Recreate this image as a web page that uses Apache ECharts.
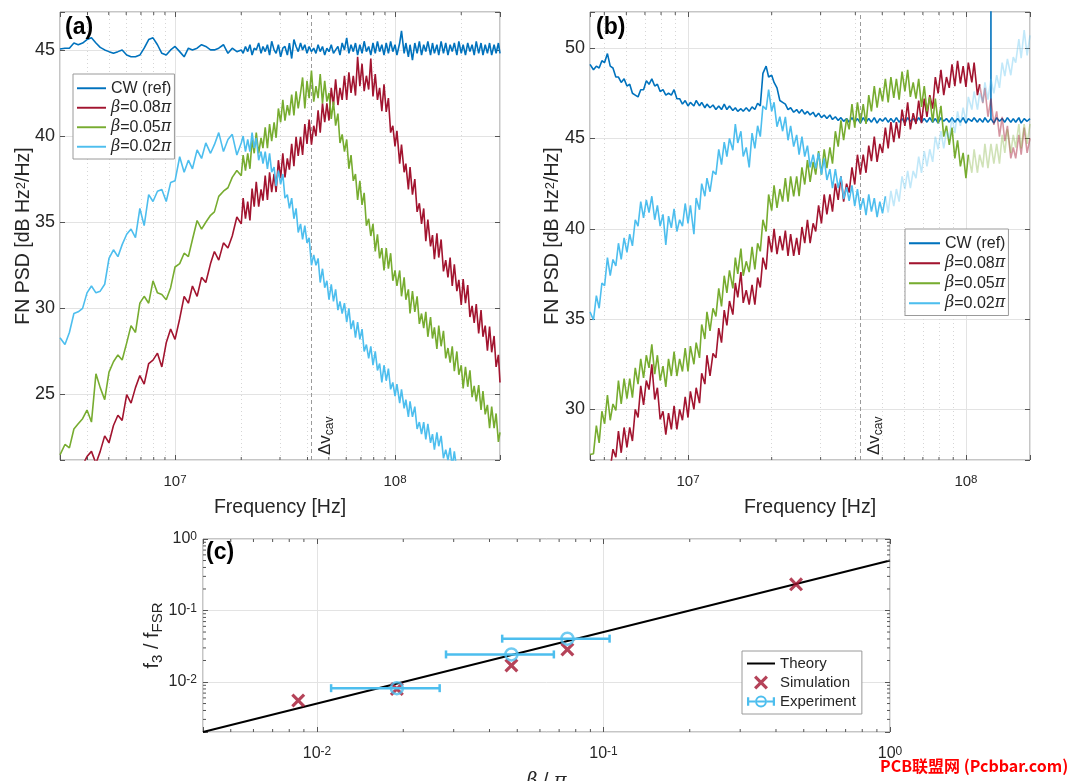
<!DOCTYPE html>
<html><head><meta charset="utf-8">
<script src="https://cdn.jsdelivr.net/npm/echarts@6/dist/echarts.min.js"></script>
<style>html,body{margin:0;padding:0;background:#fff}#c{width:1080px;height:781px}</style>
</head><body><div id="c"></div>
<script>
// ---------------- data: panel (a) ----------------
const freqA = [3.00e6,3.16e6,3.31e6,3.47e6,3.63e6,3.80e6,3.98e6,4.17e6,4.37e6,4.57e6,4.79e6,5.01e6,5.25e6,5.50e6,5.75e6,6.03e6,6.31e6,6.61e6,6.92e6,7.24e6,7.59e6,7.94e6,8.32e6,8.71e6,9.12e6,9.55e6,
1.00e7,1.05e7,1.10e7,1.15e7,1.20e7,1.26e7,1.32e7,1.38e7,1.45e7,1.51e7,1.58e7,1.66e7,1.74e7,1.82e7,1.91e7,2.00e7,
2.04e7,2.09e7,2.14e7,2.19e7,2.24e7,2.29e7,2.34e7,2.40e7,2.46e7,2.51e7,2.57e7,2.63e7,2.69e7,2.75e7,2.82e7,2.88e7,2.95e7,3.02e7,3.09e7,3.16e7,
3.24e7,3.31e7,3.39e7,3.47e7,3.55e7,3.63e7,3.72e7,3.80e7,3.89e7,3.98e7,4.07e7,4.17e7,4.27e7,4.37e7,4.47e7,4.57e7,4.68e7,4.79e7,4.90e7,5.01e7,
5.13e7,5.25e7,5.37e7,5.50e7,5.62e7,5.75e7,5.89e7,6.03e7,6.17e7,6.31e7,6.46e7,6.61e7,6.76e7,6.92e7,7.08e7,7.24e7,7.41e7,7.59e7,7.76e7,7.94e7,
8.13e7,8.32e7,8.51e7,8.71e7,8.91e7,9.12e7,9.33e7,9.55e7,9.77e7,
1.00e8,1.02e8,1.05e8,1.07e8,1.10e8,1.12e8,1.15e8,1.17e8,1.20e8,1.23e8,1.26e8,1.29e8,1.32e8,1.35e8,1.38e8,1.41e8,1.45e8,1.48e8,1.51e8,1.55e8,
1.58e8,1.62e8,1.66e8,1.70e8,1.74e8,1.78e8,1.82e8,1.86e8,1.91e8,1.95e8,2.00e8,2.04e8,2.09e8,2.14e8,2.19e8,2.24e8,2.29e8,2.34e8,2.40e8,2.46e8,
2.51e8,2.57e8,2.63e8,2.69e8,2.75e8,2.82e8,2.88e8,2.95e8,3.00e8];
const cwA = [45.05,45.1,45.1,45.4,45.3,45.4,45.6,45.7,45.4,45.15,45.0,44.9,44.8,44.9,45.0,44.7,44.6,44.6,44.7,45.1,45.6,45.7,45.3,44.8,44.7,45.0,
45.2,44.9,44.6,45.1,45.0,45.1,45.3,45.2,45.0,45.0,45.1,45.3,44.8,45.1,44.9,45.0,
44.8,45.2,44.9,45.3,44.7,45.1,45.0,45.4,44.8,45.2,44.9,45.3,
44.7,45.5,45.0,44.8,45.3,44.6,45.1,45.2,44.7,45.4,44.5,45.6,
45.2,44.9,45.4,45.0,45.3,44.8,45.2,44.9,45.1,44.8,45.3,44.9,
45.2,44.7,45.1,44.9,45.3,44.8,45.0,45.2,44.7,45.4,45.0,45.7,
44.8,45.3,44.9,45.4,44.7,45.3,44.8,45.5,44.9,45.2,44.7,45.4,
44.8,45.5,44.9,45.3,44.7,45.4,44.8,45.5,44.9,45.3,44.7,45.4,
46.1,44.8,45.4,44.6,45.3,44.4,45.4,44.8,45.5,44.7,45.3,44.9,
45.5,44.7,45.4,44.8,45.3,44.7,45.5,44.8,45.4,44.7,45.3,44.9,
45.4,44.7,45.5,44.8,45.3,44.7,45.4,44.9,45.3,44.7,45.5,44.8,
45.4,44.7,45.3,44.8,45.4,44.7,45.3,44.8,45.4,44.8];
const beta08A = [null,null,null,null,null,20.9,21.4,21.7,21.0,21.7,22.6,22.2,23.2,23.8,23.5,25.0,24.5,25.4,26.1,25.6,26.8,27.0,27.4,26.6,28.0,28.8,
28.2,29.4,30.7,30.3,31.3,30.7,31.8,31.5,32.6,33.3,32.8,33.8,33.5,34.2,35.3,34.9,
36.4,35.2,36.2,35.1,36.95,35.9,37.35,35.9,36.9,36.25,
37.7,36.3,37.9,36.75,37.8,36.75,38.6,37.55,39.0,37.6,
38.7,38.05,39.55,38.25,39.95,38.85,39.95,38.9,40.7,39.55,
40.95,39.5,40.6,40.0,41.5,40.2,41.9,40.8,41.9,40.9,
42.8,41.8,43.3,41.8,42.8,42.1,43.5,42.1,43.7,42.5,
43.5,42.35,44.6,42.9,44.2,42.6,43.5,42.7,44.5,42.3,
43.6,42.1,42.8,41.45,43.0,41.4,42.2,40.2,40.6,39.4,
40.3,38.4,39.5,37.9,38.4,36.9,38.2,36.6,37.5,35.6,
36.1,34.9,35.8,33.9,35.15,33.6,34.25,32.85,34.35,32.95,
34.0,32.15,32.8,31.8,32.95,31.3,32.55,31.0,31.65,30.2,
31.7,30.3,31.35,29.5,30.15,29.15,30.25,28.55,29.9,28.35,
29.0,27.55,28.95,27.45,28.4,26.6,27.3,25.7];
const beta05A = [21.5,22.1,21.9,23.0,23.3,23.6,24.1,23.4,26.2,25.4,24.7,26.3,26.9,27.3,27.0,28.0,29.0,28.6,30.3,30.7,30.3,31.6,30.9,30.8,30.5,31.2,
32.4,32.6,33.2,33.0,34.0,35.1,34.6,35.0,35.4,35.6,36.5,36.8,37.0,37.6,38.0,37.7,
38.9,38.0,39.0,38.1,39.8,39.0,40.2,39.0,39.9,39.3,
40.5,39.3,40.7,39.7,40.8,39.9,41.6,40.8,42.1,40.9,
41.8,41.2,42.4,41.2,42.6,41.6,42.5,43.4,41.6,43.2,
42.2,43.8,42.0,42.9,42.2,43.6,41.9,43.2,42.0,42.5,
41.0,42.0,40.6,41.3,39.6,40.1,39.1,39.8,38.1,38.9,
37.4,37.8,36.3,37.4,36.0,36.7,34.8,35.2,34.2,34.9,
33.3,34.3,32.9,33.5,32.2,33.5,32.3,33.2,31.6,32.2,
31.3,32.2,30.7,31.8,30.5,31.1,29.7,31.0,29.8,30.7,
29.1,29.7,28.85,29.8,28.35,29.5,28.25,28.9,27.65,29.0,
27.8,28.7,27.1,27.7,26.85,27.8,26.35,27.5,26.15,26.7,
25.35,26.6,25.45,26.4,24.85,25.5,24.6,25.55,24.1,25.2,
23.85,24.4,23.05,24.3,23.05,23.9,22.25,22.8];
const beta02A = [28.3,27.9,28.6,29.7,29.8,30.0,30.9,31.3,30.9,31.0,31.4,32.9,33.4,33.0,33.7,34.3,34.6,34.1,35.8,34.8,36.6,36.2,36.8,36.9,36.2,37.3,
37.4,38.8,37.9,38.6,38.1,39.2,38.7,39.6,39.0,39.5,40.2,39.1,39.8,40.1,38.9,39.6,
40.0,39.1,39.8,39.1,40.2,39.3,39.9,38.6,39.1,38.4,
39.1,38.1,39.0,37.9,38.2,37.1,38.0,37.2,37.8,36.4,
36.6,35.8,36.4,35.2,35.8,34.4,34.9,34.0,34.8,33.8,
34.1,32.5,33.1,32.5,32.9,31.5,32.3,31.2,31.6,30.5,
31.4,30.4,31.1,29.9,30.4,29.7,30.3,29.2,30.0,28.8,
29.3,28.3,29.2,28.2,28.8,27.5,27.9,27.1,27.8,26.7,
27.5,26.4,26.8,25.7,26.7,25.8,26.5,25.3,25.7,24.9,
25.6,24.5,25.3,24.2,24.7,23.7,24.6,23.7,24.3,23.0,
23.4,22.7,23.4,22.4,23.3,22.2,22.7,21.8,22.8,22.0,
22.6,21.3,21.8,21.2,21.9,20.8,21.7,20.6,21.1,20.1,
21.0,null,null,null,null,null,null,null,null,null,null,null,null,null,null,null,null,null];

// ---------------- data: panel (b) ----------------
const freqB = [4.44e6,4.57e6,4.68e6,4.79e6,4.90e6,5.01e6,5.13e6,5.25e6,5.37e6,5.50e6,5.62e6,5.75e6,5.89e6,6.03e6,6.17e6,6.31e6,6.46e6,6.61e6,6.76e6,6.92e6,
7.08e6,7.24e6,7.41e6,7.59e6,7.76e6,7.94e6,8.13e6,8.32e6,8.51e6,8.71e6,8.91e6,9.12e6,9.33e6,9.55e6,9.77e6,
1.00e7,1.02e7,1.05e7,1.07e7,1.10e7,1.12e7,1.15e7,1.17e7,1.20e7,1.23e7,1.26e7,1.29e7,1.32e7,1.35e7,1.38e7,1.41e7,1.45e7,1.48e7,1.51e7,1.55e7,
1.58e7,1.62e7,1.66e7,1.70e7,1.74e7,1.78e7,1.82e7,1.86e7,1.91e7,1.95e7,2.00e7,2.04e7,2.09e7,2.14e7,2.19e7,2.24e7,2.29e7,2.34e7,2.40e7,2.46e7,
2.51e7,2.57e7,2.63e7,2.69e7,2.75e7,2.82e7,2.88e7,2.95e7,3.02e7,3.09e7,3.16e7,3.24e7,3.31e7,3.39e7,3.47e7,3.55e7,3.63e7,3.72e7,3.80e7,3.89e7,
3.98e7,4.07e7,4.17e7,4.27e7,4.37e7,4.47e7,4.57e7,4.68e7,4.79e7,4.90e7,5.01e7,5.13e7,5.25e7,5.37e7,5.50e7,5.62e7,5.75e7,5.89e7,6.03e7,6.17e7,
6.31e7,6.46e7,6.61e7,6.76e7,6.92e7,7.08e7,7.24e7,7.41e7,7.59e7,7.76e7,7.94e7,8.13e7,8.32e7,8.51e7,8.71e7,8.91e7,9.12e7,9.33e7,9.55e7,9.77e7,
1.00e8,1.02e8,1.05e8,1.07e8,1.10e8,1.12e8,1.15e8,1.17e8,1.20e8,1.23e8,1.26e8,1.29e8,1.32e8,1.35e8,1.38e8,1.41e8,1.45e8,1.48e8,1.51e8,1.55e8,
1.58e8,1.62e8,1.66e8,1.70e8];
const cwB = [49.1,48.8,49.0,48.9,49.3,49.2,49.7,49.0,48.9,48.4,
48.4,48.1,48.3,47.9,48.0,47.5,47.4,47.3,47.7,47.7,
48.2,48.0,48.3,47.9,48.0,47.6,47.7,47.4,47.5,47.4,
47.7,47.2,47.2,46.9,47.1,46.8,47.0,46.8,47.1,46.8,
47.0,46.7,46.9,46.7,46.85,46.6,46.8,46.6,46.9,46.6,
46.8,46.55,46.7,46.5,46.65,46.5,46.7,46.5,46.75,46.6,
46.95,46.8,48.6,49.0,48.4,48.5,48.1,47.8,47.1,47.0,
46.9,46.6,46.7,46.45,46.6,46.4,46.6,46.35,46.5,46.3,
46.45,46.2,46.4,46.15,46.3,46.1,46.3,46.05,46.2,46.0,
46.15,45.95,46.1,45.9,46.15,45.9,46.1,45.85,46.15,45.9,
46.1,45.9,46.15,45.85,46.1,45.95,46.15,45.9,46.1,45.9,
46.15,45.9,46.1,45.85,46.15,45.95,46.1,45.9,46.15,45.9,
46.1,45.9,46.15,45.9,46.1,45.85,46.15,45.95,46.1,45.9,
46.15,45.9,46.1,45.9,46.15,45.85,46.1,45.95,46.15,45.9,
46.1,45.9,46.15,45.9,46.1,45.85,46.15,45.95,46.1,45.9,
46.15,45.9,46.1,45.9,46.15,45.85,46.1,45.95,46.1];
const cwSpikeB = { freq: 1.23e8, top: 53 };
const beta08B = [null,null,null,null,null,null,null,26.7,27.8,27.35,
28.8,27.6,29.0,27.9,29.0,28.25,30.0,29.55,31.3,30.25,
31.6,31.1,32.5,30.55,31.2,29.45,29.9,28.6,29.8,28.9,
30.2,28.9,30.0,29.4,30.7,29.55,31.0,30.0,31.2,30.35,
32.0,31.4,33.0,31.85,33.1,32.85,34.5,33.7,35.5,34.65,
36.0,35.25,37.0,36.2,37.6,35.9,36.6,35.8,36.9,35.8,
37.3,36.75,38.4,37.75,39.6,38.7,40.0,38.6,39.6,38.8,
39.9,38.5,39.7,38.5,39.5,38.55,40.1,39.2,40.5,39.2,
40.3,39.85,41.3,40.3,41.9,40.8,41.9,40.95,42.5,41.6,
42.9,41.5,42.5,42.0,43.4,42.45,44.1,43.0,44.1,43.1,
44.6,43.75,45.1,43.7,44.7,44.2,45.6,44.45,45.9,44.8,
45.9,45.0,46.6,45.7,47.0,45.5,46.4,45.8,47.1,45.85,
47.2,46.2,47.4,46.65,48.4,47.5,48.8,47.4,48.4,47.8,
49.1,47.9,49.3,48.05,49.0,47.85,49.2,48.1,49.2,47.4,
48.0,46.95,47.8,46.2,47.2,45.75,46.5,45.1,46.2,44.85,
45.7,43.9,44.5,43.9,45.2,44.1,45.6,44.2,45.0];
const beta05B = [27.5,27.55,29.1,28.15,29.9,29.2,30.8,29.4,30.3,29.95,
31.6,30.3,31.7,30.6,31.7,30.65,32.3,31.4,32.8,31.75,
33.0,32.3,33.6,31.95,33.0,31.6,32.4,31.25,32.8,31.85,
33.2,31.85,32.8,32.1,33.4,32.1,33.5,32.5,33.7,32.85,
34.7,33.9,35.4,34.35,35.6,35.15,36.7,35.7,37.4,36.45,
37.7,36.7,38.4,37.5,38.9,37.4,38.2,37.6,39.0,37.75,
39.2,38.75,40.5,39.85,41.9,41.0,42.4,41.15,42.2,41.5,
42.8,41.5,42.9,41.8,42.9,41.8,43.4,42.45,43.8,42.6,
43.7,43.0,44.3,43.0,44.4,43.35,44.5,43.6,45.4,44.55,
46.0,44.9,46.1,45.5,46.9,45.6,47.0,45.85,46.9,45.8,
47.4,46.5,47.9,46.7,47.8,47.05,48.3,47.0,48.4,47.25,
48.3,47.15,48.7,47.6,48.8,47.3,48.1,47.2,48.3,46.75,
47.9,46.5,47.3,45.9,47.2,45.85,46.8,45.1,45.7,44.65,
45.6,43.9,44.9,43.45,44.2,42.8,44.1,43.1,44.4,43.1,
44.1,43.4,44.7,43.35,44.7,43.6,44.7,43.6,45.2,44.2,
45.5,44.2,45.2,44.5,45.8,44.45,45.8,44.7,45.8];
const beta02B = [35.4,34.95,36.3,35.6,37.0,36.85,38.4,37.4,38.3,37.95,
39.2,38.3,39.5,38.7,39.7,39.05,40.5,40.15,41.5,40.6,
41.6,40.9,41.8,40.5,41.3,40.15,40.8,39.1,40.7,40.05,
41.1,39.85,40.5,40.15,41.4,40.3,41.3,39.7,41.7,41.05,
42.5,41.8,42.8,42.05,43.2,43.0,44.4,43.55,44.8,44.0,
45.0,44.35,45.8,44.75,45.4,44.0,44.5,43.4,45.3,44.45,
45.7,45.1,46.8,46.6,47.7,46.5,47.0,45.65,46.2,45.4,
46.2,44.9,45.7,44.55,45.2,44.1,45.1,44.0,44.6,43.4,
44.1,43.35,44.2,43.0,43.9,42.7,43.3,42.25,43.3,42.25,
42.9,41.65,42.3,41.55,42.4,41.25,42.2,41.05,41.7,40.75,
41.9,40.95,41.7,40.65,41.5,40.85,41.8,40.9,42.1,41.25,
42.2,41.5,42.9,42.2,43.2,42.25,43.2,42.8,44.0,43.1,
44.3,43.45,44.4,43.7,45.1,44.4,45.4,44.45,45.4,45.0,
46.2,45.3,46.5,45.7,46.7,45.95,47.3,46.6,47.6,46.6,
47.5,47.0,48.1,47.15,48.3,47.5,48.5,47.8,49.2,48.45,
49.4,48.5,49.5,49.2,50.5,49.45,51.0,49.6,50.7];
// frequency above which each trace of (b) is drawn faded
const fadeFromB = { b08: 1.12e8, b05: 1.02e8, b02: 5.13e7 };

// cavity linewidth marker, minor decade lines
const dvCav = 4.17e7;
const minorA = [4e6,5e6,6e6,7e6,8e6,9e6,2e7,3e7,4e7,5e7,6e7,7e7,8e7,9e7,2e8];
const minorB = [5e6,6e6,7e6,8e6,9e6,2e7,3e7,4e7,5e7,6e7,7e7,8e7,9e7];

// ---------------- data: panel (c) ----------------
const theoryX = [0.004, 1];
const theoryY = [0.002, 0.5];
const simX = [0.0086, 0.019, 0.0477, 0.0748, 0.47];
const simY = [0.0055, 0.0080, 0.0170, 0.0285, 0.232];
const expX = [0.019, 0.0477, 0.0748];
const expY = [0.0082, 0.0243, 0.0404];
const expXLow = [0.0112, 0.0282, 0.0443];
const expXHigh = [0.0268, 0.0671, 0.105];
const minorCX = [5e-3,6e-3,7e-3,8e-3,9e-3,2e-2,3e-2,4e-2,5e-2,6e-2,7e-2,8e-2,9e-2,0.2,0.3,0.4,0.5,0.6,0.7,0.8,0.9];
const minorCY = [3e-3,4e-3,5e-3,6e-3,7e-3,8e-3,9e-3,2e-2,3e-2,4e-2,5e-2,6e-2,7e-2,8e-2,9e-2,0.2,0.3,0.4,0.5,0.6,0.7,0.8,0.9];

// axis ranges
const rangeA = { xMin: 3e6, xMax: 3e8, yMin: 21.2, yMax: 47.2 };
const rangeB = { xMin: 4.44e6, xMax: 1.7e8, yMin: 27.2, yMax: 52 };
const rangeC = { xMin: 4e-3, xMax: 1, yMin: 2e-3, yMax: 1 };

const names = ['CW (ref)', 'β=0.08π', 'β=0.05π', 'β=0.02π'];
const COL = { cw: '#0072BD', b08: '#A2142F', b05: '#77AC30', b02: '#4DBEEE' };
const FONT = '"Liberation Sans", Arial, Helvetica, sans-serif';
const SERIF = '"DejaVu Serif", "Liberation Serif", serif';
const INK = '#262626';
const FADE = 0.35;

// ---------------- helpers ----------------
function pairs(f, v) { const o = []; for (let i = 0; i < f.length; i++) if (v[i] != null) o.push([f[i], v[i]]); return o; }
function lineS(name, data, color, xi, yi, opacity, extra) {
  return Object.assign({ type: 'line', name, data, xAxisIndex: xi, yAxisIndex: yi, showSymbol: false, symbol: 'none',
    lineStyle: { color, width: 1.6, opacity: opacity == null ? 1 : opacity }, itemStyle: { color }, z: 2,
    animation: false, silent: true, clip: true }, extra || {});
}
function fiveFmt(v) { return Math.abs(v / 5 - Math.round(v / 5)) < 1e-6 ? String(Math.round(v)) : ''; }
function logFmt(v) { const e = Math.log10(v), r = Math.round(e); return Math.abs(e - r) < 1e-6 ? '{b|10}{s|' + r + '}' : ''; }
function supRich(b, s) {
  return { b: { fontSize: b, lineHeight: b, fontFamily: FONT, color: INK, verticalAlign: 'bottom' },
           s: { fontSize: s, lineHeight: s, fontFamily: FONT, color: INK, verticalAlign: 'top', padding: [0, 0, Math.round(b * 0.5), 0] } };
}
const tickStyle = { inside: true, length: 5, lineStyle: { color: '#555', width: 1 } };
const splitStyle = { show: true, lineStyle: { color: '#e3e3e3', width: 1 } };

function xLog(gi, r, name, nameGap, bs, ss, margin) {
  return { type: 'log', logBase: 10, gridIndex: gi, min: r.xMin, max: r.xMax, position: 'bottom',
    axisLine: { show: false }, axisTick: tickStyle, splitLine: splitStyle, minorTick: { show: false },
    axisLabel: { formatter: logFmt, margin, rich: supRich(bs, ss), color: INK, fontFamily: FONT },
    name, nameLocation: 'middle', nameGap, nameMoveOverlap: false,
    nameTextStyle: { fontSize: 19.5, fontFamily: FONT, color: INK } };
}
function mirrorX(gi, r, type) {
  return { type, logBase: 10, gridIndex: gi, min: r.xMin, max: r.xMax, position: 'top', axisLine: { show: false },
    axisTick: tickStyle, axisLabel: { show: false }, splitLine: { show: false } };
}
function mirrorY(gi, r, type) {
  return { type, logBase: 10, gridIndex: gi, min: r.yMin, max: r.yMax, position: 'right', axisLine: { show: false },
    axisTick: tickStyle, axisLabel: { show: false }, splitLine: { show: false } };
}
const psdName = '{n|FN PSD [dB Hz}{p|2}{n|/Hz]}';
const psdRich = { n: { fontSize: 19.5, lineHeight: 19.5, fontFamily: FONT, color: INK, verticalAlign: 'bottom' },
                  p: { fontSize: 13, lineHeight: 13, fontFamily: FONT, color: INK, verticalAlign: 'top', padding: [0, 0, 8, 0] } };
function yPsd(gi, r, gap) {
  return { type: 'value', gridIndex: gi, min: r.yMin, max: r.yMax, position: 'left', axisLine: { show: false },
    axisTick: tickStyle, splitLine: splitStyle,
    axisLabel: { formatter: fiveFmt, fontSize: 18, margin: 5, color: INK, fontFamily: FONT },
    name: psdName, nameLocation: 'middle', nameGap: gap, nameRotate: 90, nameMoveOverlap: false,
    nameTextStyle: { rich: psdRich } };
}

function minorTicksX(xi, yi, vals, yRef) {
  return { type: 'custom', xAxisIndex: xi, yAxisIndex: yi, silent: true, z: 3, animation: false,
    data: vals.map(v => [v, yRef]), encode: { x: 0, y: 1 },
    renderItem: (p, api) => {
      const x = api.coord([api.value(0), api.value(1)])[0];
      const cs = p.coordSys; const st = { stroke: '#555', lineWidth: 1 };
      return { type: 'group', children: [
        { type: 'line', shape: { x1: x, y1: cs.y + cs.height, x2: x, y2: cs.y + cs.height - 3 }, style: st },
        { type: 'line', shape: { x1: x, y1: cs.y, x2: x, y2: cs.y + 3 }, style: st }] };
    } };
}
function minorTicksY(xi, yi, vals, xRef) {
  return { type: 'custom', xAxisIndex: xi, yAxisIndex: yi, silent: true, z: 3, animation: false,
    data: vals.map(v => [xRef, v]), encode: { x: 0, y: 1 },
    renderItem: (p, api) => {
      const y = api.coord([api.value(0), api.value(1)])[1];
      const cs = p.coordSys; const st = { stroke: '#555', lineWidth: 1 };
      return { type: 'group', children: [
        { type: 'line', shape: { x1: cs.x, y1: y, x2: cs.x + 3, y2: y }, style: st },
        { type: 'line', shape: { x1: cs.x + cs.width, y1: y, x2: cs.x + cs.width - 3, y2: y }, style: st }] };
    } };
}
const dvRich = { n: { fontSize: 17, lineHeight: 17, fontFamily: FONT, color: INK, verticalAlign: 'top' },
                 s: { fontSize: 12, lineHeight: 12, fontFamily: FONT, color: INK, verticalAlign: 'top', padding: [7, 0, 0, 0] } };
function gridMarks(minor) {
  return { silent: true, symbol: ['none', 'none'], z: 1, animation: false, label: { show: false },
    data: minor.map(v => ({ xAxis: v, lineStyle: { type: [1, 3], color: '#d6d6d6', width: 1 } })).concat([
      { xAxis: dvCav, lineStyle: { type: [4, 3], color: '#9a9a9a', width: 1 },
        label: { show: true, position: 'insideStartBottom', distance: 5, formatter: '{n|Δv}{s|cav}', rich: dvRich } }]) };
}
function splitFade(f, v, cut) {
  const all = pairs(f, v);
  return [all.filter(p => p[0] <= cut), all.filter(p => p[0] >= cut)];
}

// ---------------- series ----------------
const series = [];
// panel (a)
series.push(lineS(names[0], pairs(freqA, cwA), COL.cw, 0, 0, 1, { markLine: gridMarks(minorA) }));
series.push(lineS(names[1], pairs(freqA, beta08A), COL.b08, 0, 0));
series.push(lineS(names[2], pairs(freqA, beta05A), COL.b05, 0, 0));
series.push(lineS(names[3], pairs(freqA, beta02A), COL.b02, 0, 0));
series.push(minorTicksX(0, 0, minorA, rangeA.yMin));
// panel (b)
const cwBData = [];
pairs(freqB, cwB).forEach(p => { cwBData.push(p); if (p[0] === cwSpikeB.freq) { cwBData.push([p[0], cwSpikeB.top]); cwBData.push([p[0], p[1]]); } });
series.push(lineS(names[0], cwBData, COL.cw, 2, 2, 1, { markLine: gridMarks(minorB) }));
const r08 = splitFade(freqB, beta08B, fadeFromB.b08);
const r05 = splitFade(freqB, beta05B, fadeFromB.b05);
const r02 = splitFade(freqB, beta02B, fadeFromB.b02);
series.push(lineS(names[1], r08[0], COL.b08, 2, 2));
series.push(lineS(names[1], r08[1], COL.b08, 2, 2, FADE + 0.1));
series.push(lineS(names[2], r05[0], COL.b05, 2, 2));
series.push(lineS(names[2], r05[1], COL.b05, 2, 2, FADE));
series.push(lineS(names[3], r02[0], COL.b02, 2, 2));
series.push(lineS(names[3], r02[1], COL.b02, 2, 2, FADE));
series.push(minorTicksX(2, 2, minorB, rangeB.yMin));
// panel (c)
const xPath = 'path://M0,1.6L1.6,0L5,3.4L8.4,0L10,1.6L6.6,5L10,8.4L8.4,10L5,6.6L1.6,10L0,8.4L3.4,5Z';
const expIcon = 'path://M0,5.2H5.9V6.8H0ZM14.1,5.2H20V6.8H14.1ZM7.2,5.2H12.8V6.8H7.2ZM0,3H1.6V9H0ZM18.4,3H20V9H18.4Z' +
  'M14.2,6A4.2,4.2 0 1 0 5.8,6A4.2,4.2 0 1 0 14.2,6ZM12.8,6A2.8,2.8 0 1 1 7.2,6A2.8,2.8 0 1 1 12.8,6Z';
series.push({ type: 'line', name: 'Theory', xAxisIndex: 4, yAxisIndex: 4, data: theoryX.map((x, i) => [x, theoryY[i]]),
  showSymbol: false, symbol: 'none', lineStyle: { color: '#000', width: 2 }, itemStyle: { color: '#000' }, z: 2, animation: false, silent: true });
series.push({ type: 'scatter', name: 'Simulation', xAxisIndex: 4, yAxisIndex: 4, data: simX.map((x, i) => [x, simY[i]]),
  symbol: xPath, symbolSize: 14, itemStyle: { color: COL.b08 }, z: 3, animation: false, silent: true });
series.push({ type: 'custom', name: 'Experiment', xAxisIndex: 4, yAxisIndex: 4, itemStyle: { color: COL.b02 },
  data: expX.map((x, i) => [x, expY[i], expXLow[i], expXHigh[i]]), encode: { x: [0, 2, 3], y: 1 }, z: 4, animation: false, silent: true,
  renderItem: (p, api) => {
    const y = api.value(1);
    const a = api.coord([api.value(2), y]), b = api.coord([api.value(3), y]);
    const st = { stroke: COL.b02, lineWidth: 2.5 }, h = 4;
    return { type: 'group', children: [
      { type: 'line', shape: { x1: a[0], y1: a[1], x2: b[0], y2: b[1] }, style: st },
      { type: 'line', shape: { x1: a[0], y1: a[1] - h, x2: a[0], y2: a[1] + h }, style: st },
      { type: 'line', shape: { x1: b[0], y1: b[1] - h, x2: b[0], y2: b[1] + h }, style: st }] };
  } });
series.push({ type: 'scatter', name: 'Experiment', xAxisIndex: 4, yAxisIndex: 4, data: expX.map((x, i) => [x, expY[i]]),
  symbol: 'circle', symbolSize: 12, itemStyle: { color: 'rgba(0,0,0,0)', borderColor: COL.b02, borderWidth: 2.5 }, z: 5, animation: false, silent: true });
series.push(minorTicksX(4, 4, minorCX, rangeC.yMin));
series.push(minorTicksY(4, 4, minorCY, rangeC.xMin));

// ---------------- legends ----------------
function legFmt(n) { return n.charAt(0) === 'β' ? '{i|β}=' + n.slice(2, -1) + '{i|π}' : n; }
const legText = { fontSize: 16, fontFamily: FONT, color: INK, lineHeight: 16.5,
  rich: { i: { fontSize: 16, fontStyle: 'italic', fontFamily: SERIF, color: INK } } };
const legendA = { left: 73, top: 74, orient: 'vertical', data: names, formatter: legFmt, icon: 'path://M0,0H30V2H0Z',
  itemWidth: 29, itemHeight: 12, itemGap: 3, padding: [6, 3, 4, 4], borderColor: '#9a9a9a', borderWidth: 1, borderRadius: 0,
  backgroundColor: '#fff', textStyle: legText, selectedMode: false };
const legendB = Object.assign({}, legendA, { left: 905, top: 229, itemWidth: 31, itemGap: 3.5 });
const legendC = { left: 742, top: 651, orient: 'vertical',
  data: [{ name: 'Theory', icon: 'path://M0,0H28V2H0Z' }, { name: 'Simulation', icon: xPath }, { name: 'Experiment', icon: expIcon }],
  itemWidth: 28, itemHeight: 14, itemGap: 4, padding: [5, 6, 5, 5], borderColor: '#9a9a9a', borderWidth: 1, borderRadius: 0,
  backgroundColor: '#fff', textStyle: { fontSize: 15, fontFamily: FONT, color: INK }, selectedMode: false };

const panelTitle = (t, l, tp) => ({ text: t, left: l, top: tp, padding: 0,
  textStyle: { fontSize: 23, fontWeight: 'bold', fontFamily: FONT, color: '#000' } });

const gridBase = { show: true, borderColor: '#8c8c8c', borderWidth: 1, backgroundColor: '#fff', containLabel: false, outerBoundsMode: 'none' };
const option = {
  animation: false,
  backgroundColor: '#fff',
  textStyle: { fontFamily: FONT },
  title: [panelTitle('(a)', 65, 16), panelTitle('(b)', 596, 16), panelTitle('(c)', 206, 541)],
  legend: [legendA, legendB, legendC],
  grid: [
    Object.assign({ left: 60, top: 12, width: 440, height: 448 }, gridBase),
    Object.assign({ left: 590, top: 12, width: 440, height: 448 }, gridBase),
    Object.assign({ left: 203, top: 539, width: 687, height: 193 }, gridBase)
  ],
  xAxis: [
    xLog(0, rangeA, 'Frequency [Hz]', 38, 15, 11.5, 14),
    mirrorX(0, rangeA, 'log'),
    xLog(1, rangeB, 'Frequency [Hz]', 38, 15, 11.5, 14),
    mirrorX(1, rangeB, 'log'),
    Object.assign(xLog(2, rangeC, '{i|β} / {i|π}', 40, 16, 12, 14), {
      nameTextStyle: { fontSize: 19.5, fontFamily: FONT, color: INK,
        rich: { i: { fontSize: 19.5, fontStyle: 'italic', fontFamily: SERIF, color: INK } } } }),
    mirrorX(2, rangeC, 'log')
  ],
  yAxis: [
    yPsd(0, rangeA, 26),
    mirrorY(0, rangeA, 'value'),
    yPsd(1, rangeB, 27),
    mirrorY(1, rangeB, 'value'),
    { type: 'log', logBase: 10, gridIndex: 2, min: rangeC.yMin, max: rangeC.yMax, position: 'left', axisLine: { show: false },
      axisTick: tickStyle, splitLine: splitStyle,
      axisLabel: { formatter: logFmt, margin: 6, rich: supRich(16, 12), color: INK, fontFamily: FONT },
      name: '{n|f}{s|3}{n| / f}{s|FSR}', nameLocation: 'middle', nameGap: 41, nameRotate: 90, nameMoveOverlap: false,
      nameTextStyle: { rich: {
        n: { fontSize: 20, lineHeight: 20, fontFamily: FONT, color: INK, verticalAlign: 'top' },
        s: { fontSize: 15, lineHeight: 15, fontFamily: FONT, color: INK, verticalAlign: 'top', padding: [8, 0, 0, 0] } } } },
    mirrorY(2, rangeC, 'log')
  ],
  series,
  graphic: [{ type: 'text', left: 880, top: 758, silent: true,
    style: { text: 'PCB联盟网 (Pcbbar.com)', fill: '#ff0000', font: 'bold 16px "Noto Sans CJK SC", sans-serif' } }]
};

const chart = echarts.init(document.getElementById('c'), null, { renderer: 'canvas' });
chart.setOption(option);
</script>
</body></html>
